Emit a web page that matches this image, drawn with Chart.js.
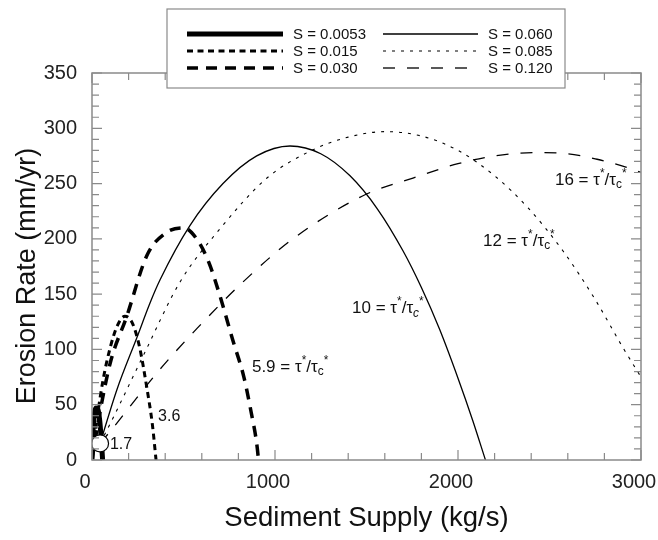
<!DOCTYPE html>
<html>
<head>
<meta charset="utf-8">
<script src="https://cdn.jsdelivr.net/npm/chart.js@4.4.0/dist/chart.umd.min.js"></script>
<style>
  html, body { margin: 0; padding: 0; background: #fff; }
</style>
</head>
<body>
<canvas id="chart" width="658" height="540"></canvas>
<script>
// series (x = sediment supply kg/s, y = erosion rate mm/yr)
const seriesLabels = ["S = 0.0053", "S = 0.015", "S = 0.030", "S = 0.060", "S = 0.085", "S = 0.120"];

const x0053 = [0, 5, 12, 22, 32, 42, 50, 58];
const y0053 = [0, 25, 40, 47, 46, 36, 20, 0];

const x015 = [0, 30, 60, 100, 140, 180, 220, 260, 300, 330, 350];
const y015 = [0, 40, 72, 102, 122, 130, 124, 102, 65, 32, 0];

const x030 = [0, 40, 100, 190, 300, 400, 500, 580, 640, 700, 770, 830, 870, 900, 910];
const y030 = [0, 40, 88, 130, 185, 205, 210, 198, 178, 148, 108, 75, 43, 15, 0];

const x060 = [44, 137, 246, 317, 372, 535, 716, 900, 1082, 1250, 1410, 1560, 1700, 1800, 1900, 2000, 2080, 2150];
const y060 = [15, 64, 111, 142, 163, 212, 250, 275, 284, 277, 257, 227, 189, 156, 118, 74, 36, 0];

const x085 = [44, 100, 279, 481, 699, 956, 1200, 1400, 1600, 1800, 2000, 2200, 2383, 2574, 2750, 2900, 3000];
const y085 = [15, 33, 94, 161, 209, 255, 280, 292, 297, 293, 280, 257, 228, 189, 145, 102, 75];

const x120 = [44, 100, 361, 574, 825, 1098, 1481, 1754, 2000, 2200, 2421, 2600, 2760, 2896, 3000];
const y120 = [15, 26, 80, 119, 161, 200, 239, 255, 268, 275, 278, 277, 272, 266, 260];

// open circle near the origin
const markerX = [44];
const markerY = [15];

// tau*/tau_c* annotations
const ratioTexts = ["1.7", "3.6", "5.9", "10", "12", "16"];
const ratioX = [98, 361, 874, 1421, 2137, 2530];
const ratioY = [14, 39, 84, 137, 198, 253];

const xTickLabels = [0, 1000, 2000, 3000];
const yTickLabels = [0, 50, 100, 150, 200, 250, 300, 350];

const FONT = "'Liberation Sans', Arial, Helvetica, sans-serif";
const toPoints = (xs, ys) => xs.map((x, i) => ({ x: x, y: ys[i] }));

const styles = [
  { borderWidth: 5, borderDash: [] },
  { borderWidth: 3, borderDash: [6, 4.5] },
  { borderWidth: 3.5, borderDash: [11, 8] },
  { borderWidth: 1.3, borderDash: [] },
  { borderWidth: 1.1, borderDash: [3, 6] },
  { borderWidth: 1.3, borderDash: [12, 12] }
];
const seriesData = [
  toPoints(x0053, y0053), toPoints(x015, y015), toPoints(x030, y030),
  toPoints(x060, y060), toPoints(x085, y085), toPoints(x120, y120)
];

const datasets = seriesData.map((pts, i) => ({
  label: seriesLabels[i],
  data: pts,
  order: 1,
  borderColor: "#000",
  borderWidth: styles[i].borderWidth,
  borderDash: styles[i].borderDash,
  borderCapStyle: "butt",
  pointRadius: 0,
  fill: false,
  cubicInterpolationMode: "monotone"
}));

datasets.push({
  label: "",
  data: toPoints(markerX, markerY),
  order: 0,
  showLine: false,
  pointRadius: 8.5,
  pointBackgroundColor: "#fff",
  pointBorderColor: "#000",
  pointBorderWidth: 1.2
});

// frame with inward ticks on all four sides, plus the y title
const framePlugin = {
  id: "frame",
  afterDraw(chart) {
    const { ctx, chartArea: a, scales } = chart;
    ctx.save();
    ctx.strokeStyle = "#8a8a8a";
    ctx.lineWidth = 1.5;
    ctx.strokeRect(a.left, a.top, a.right - a.left, a.bottom - a.top);
    ctx.lineWidth = 1.2;
    scales.x.ticks.forEach(t => {
      const px = scales.x.getPixelForValue(t.value);
      const len = xTickLabels.includes(t.value) ? 10 : 7;
      ctx.beginPath();
      ctx.moveTo(px, a.bottom); ctx.lineTo(px, a.bottom - len);
      ctx.moveTo(px, a.top); ctx.lineTo(px, a.top + len);
      ctx.stroke();
    });
    scales.y.ticks.forEach(t => {
      const py = scales.y.getPixelForValue(t.value);
      const len = yTickLabels.includes(t.value) ? 10 : 7;
      ctx.beginPath();
      ctx.moveTo(a.left, py); ctx.lineTo(a.left + len, py);
      ctx.moveTo(a.right, py); ctx.lineTo(a.right - len, py);
      ctx.stroke();
    });

    ctx.translate(28, 276);
    ctx.rotate(-Math.PI / 2);
    ctx.fillStyle = "#111";
    ctx.font = "27px " + FONT;
    ctx.textAlign = "center";
    ctx.textBaseline = "middle";
    ctx.fillText("Erosion Rate (mm/yr)", 0, 0);
    ctx.restore();
  }
};

function drawRich(ctx, x, y, parts, size) {
  let cx = x;
  parts.forEach(p => {
    const s = p.sup || p.sub ? size * 0.7 : size;
    ctx.font = (p.italic ? "italic " : "") + s + "px " + FONT;
    let dy = 0;
    if (p.sup) dy = -size * 0.38;
    if (p.sub) dy = size * 0.28;
    ctx.fillText(p.t, cx, y + dy);
    cx += ctx.measureText(p.t).width;
  });
}

const labelPlugin = {
  id: "ratioLabels",
  afterDraw(chart) {
    const { ctx, scales } = chart;
    ctx.save();
    ctx.fillStyle = "#111";
    ctx.textBaseline = "middle";
    ctx.textAlign = "left";
    ratioTexts.forEach((txt, i) => {
      const px = scales.x.getPixelForValue(ratioX[i]);
      const py = scales.y.getPixelForValue(ratioY[i]);
      if (i < 2) {
        drawRich(ctx, px, py, [{ t: txt }], 16);
      } else {
        drawRich(ctx, px, py, [
          { t: txt + " = \u03c4" }, { t: "*", sup: true }, { t: "/\u03c4" },
          { t: "c", sub: true, italic: i === 3 }, { t: "*", sup: true }
        ], 17);
      }
    });
    ctx.restore();
  }
};

// two-column legend box over the top of the frame
const legendPlugin = {
  id: "boxLegend",
  afterDraw(chart) {
    const { ctx } = chart;
    const box = { l: 167, t: 9, r: 565, b: 88 };
    ctx.save();
    ctx.fillStyle = "#fff";
    ctx.fillRect(box.l, box.t, box.r - box.l, box.b - box.t);
    ctx.strokeStyle = "#8a8a8a";
    ctx.lineWidth = 1.2;
    ctx.strokeRect(box.l, box.t, box.r - box.l, box.b - box.t);
    const cols = [{ x0: 187, x1: 283, tx: 293 }, { x0: 383, x1: 478, tx: 488 }];
    const rows = [34, 51, 68];
    ctx.fillStyle = "#111";
    ctx.font = "15px " + FONT;
    ctx.textBaseline = "middle";
    chart.data.datasets.slice(0, 6).forEach((ds, i) => {
      const c = cols[Math.floor(i / 3)];
      const y = rows[i % 3];
      ctx.strokeStyle = "#000";
      ctx.lineWidth = ds.borderWidth;
      ctx.setLineDash(ds.borderDash);
      ctx.beginPath();
      ctx.moveTo(c.x0, y); ctx.lineTo(c.x1, y);
      ctx.stroke();
      ctx.setLineDash([]);
      ctx.fillText(ds.label, c.tx, y + 1);
    });
    ctx.restore();
  }
};

new Chart(document.getElementById("chart").getContext("2d"), {
  type: "line",
  data: { datasets: datasets },
  options: {
    responsive: false,
    devicePixelRatio: 1,
    animation: false,
    layout: { padding: { top: 73, right: 17, bottom: 0, left: 0 } },
    plugins: { legend: { display: false }, tooltip: { enabled: false } },
    scales: {
      x: {
        type: "linear",
        min: 0, max: 3000,
        afterFit(scale) { scale.height = 80; scale.paddingLeft = 0; scale.paddingRight = 0; },
        grid: { display: false, drawTicks: false },
        border: { display: false },
        ticks: {
          stepSize: 200, autoSkip: false, maxRotation: 0, padding: 10, labelOffset: -7,
          color: "#222", font: { size: 20, family: FONT },
          callback: v => xTickLabels.includes(v) ? String(v) : ""
        },
        title: {
          display: true, text: "Sediment Supply (kg/s)", color: "#111",
          font: { size: 27.5, family: FONT }, padding: { top: 0, bottom: 5 }
        }
      },
      y: {
        min: 0, max: 350,
        afterFit(scale) { scale.width = 92; scale.paddingTop = 0; scale.paddingBottom = 0; },
        grid: { display: false, drawTicks: false },
        border: { display: false },
        ticks: {
          stepSize: 10, autoSkip: false, padding: 15,
          color: "#222", font: { size: 20, family: FONT },
          callback: v => yTickLabels.includes(v) ? String(v) : ""
        },
        title: { display: false }
      }
    }
  },
  plugins: [framePlugin, labelPlugin, legendPlugin]
});
</script>
</body>
</html>
